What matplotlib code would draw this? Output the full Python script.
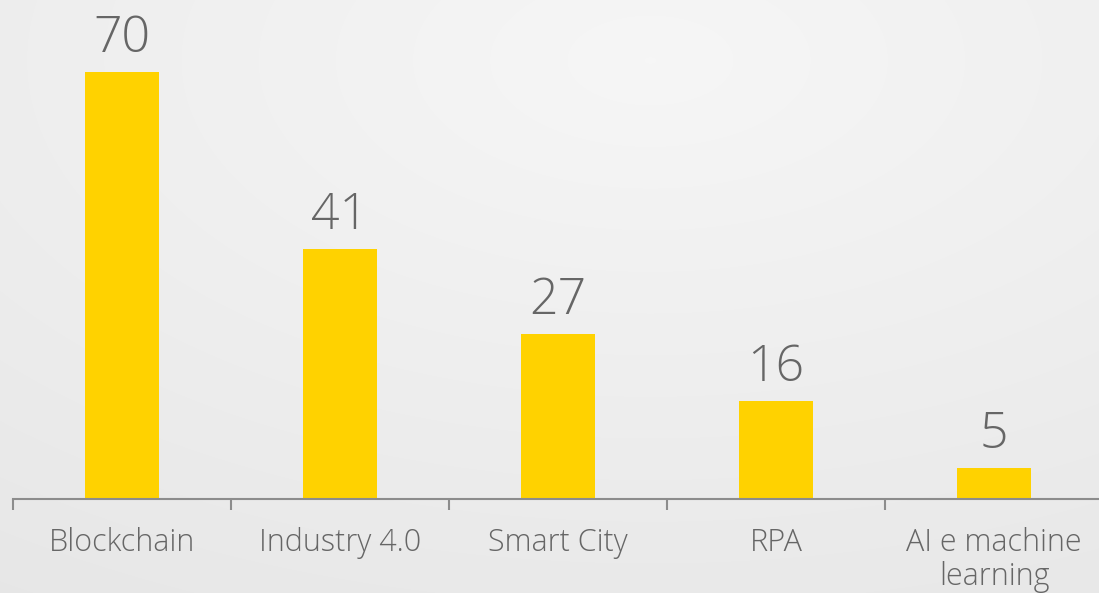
import numpy as np
import matplotlib.pyplot as plt

categorie = ["Blockchain", "Industry 4.0", "Smart City", "RPA", "AI e machine\nlearning"]
valori = [70, 41, 27, 16, 5]

giallo = "#FFD200"
grigio_testo = "#666666"
grigio_asse = "#8c8c8c"

plt.rcParams['font.family'] = ['Open Sans', 'DejaVu Sans']
plt.rcParams['font.weight'] = 'light'

fig = plt.figure(figsize=(10.99, 5.93), dpi=100)

# sfondo grigio sfumato
bg = fig.add_axes([0, 0, 1, 1], zorder=-1)
yy, xx = np.mgrid[0:593, 0:1099]
d = np.sqrt(((xx - 650) / 1099) ** 2 + ((yy - 60) / 593) ** 2)
d = d / d.max()
liv = 0.965 - 0.06 * d
bg.imshow(np.dstack([liv, liv, liv]), aspect='auto', extent=(0, 1, 0, 1))
bg.axis('off')

ax = fig.add_axes([13 / 1099, 94 / 593, 1090 / 1099, 499 / 593])
ax.patch.set_alpha(0)
x = np.arange(len(categorie))
barre = ax.bar(x, valori, width=0.34, color=giallo, zorder=2)

for xi, v in zip(x, valori):
    ax.annotate(str(v), (xi, v), xytext=(0, 6), textcoords='offset points',
                ha='center', va='bottom', fontsize=36, color=grigio_testo,
                fontweight='light')

ax.set_xlim(-0.5, len(categorie) - 0.5)
ax.set_ylim(0, 81.8)

for s in ['top', 'right', 'left']:
    ax.spines[s].set_visible(False)
ax.spines['bottom'].set_color(grigio_asse)
ax.spines['bottom'].set_linewidth(1.5)

ax.set_yticks([])
ax.set_xticks(np.arange(-0.5, len(categorie)), minor=False)
ax.set_xticklabels([])
ax.tick_params(axis='x', which='major', length=8, width=1.5, color=grigio_asse)
ax.set_xticks(x, minor=True)
ax.set_xticklabels(categorie, minor=True, fontsize=22, color=grigio_testo,
                   linespacing=1.1, fontweight='light')
ax.tick_params(axis='x', which='minor', length=0, pad=20)

fig.savefig('out.png', dpi=100)
